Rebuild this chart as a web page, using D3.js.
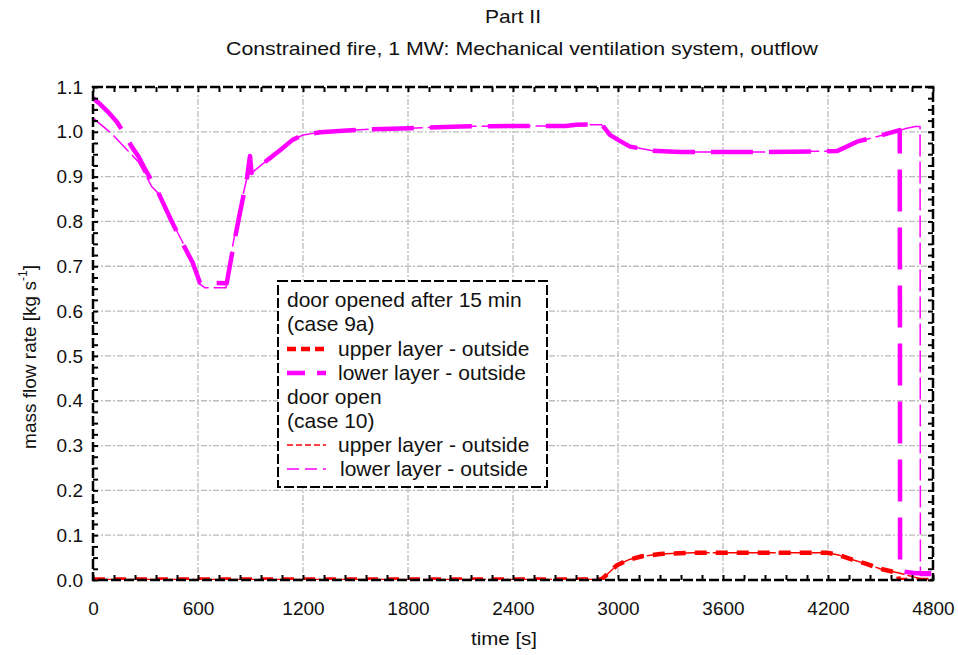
<!DOCTYPE html>
<html>
<head>
<meta charset="utf-8">
<script src="https://cdn.jsdelivr.net/npm/d3@7"></script>
<style>
  html, body { margin: 0; padding: 0; background: #fff; }
  svg { display: block; }
  text { font-family: "Liberation Sans", Arial, sans-serif; fill: #111; }
</style>
</head>
<body>
<svg id="chart" width="958" height="655"></svg>
<script>
// ---------- data ----------
const title = "Part II";
const subtitle = "Constrained fire, 1 MW: Mechanical ventilation system, outflow";
const xLabel = "time [s]";
const yLabel = "mass flow rate [kg s";

const xTickValues = [0, 600, 1200, 1800, 2400, 3000, 3600, 4200, 4800];
const xTickLabels = ["0", "600", "1200", "1800", "2400", "3000", "3600", "4200", "4800"];
const yTickValues = [0, 0.1, 0.2, 0.3, 0.4, 0.5, 0.6, 0.7, 0.8, 0.9, 1.0, 1.1];
const yTickLabels = ["0.0", "0.1", "0.2", "0.3", "0.4", "0.5", "0.6", "0.7", "0.8", "0.9", "1.0", "1.1"];

// case 9a (door opened after 15 min), lower layer - outside
const lower9aTime = [0, 40, 80, 137, 180, 221, 260, 300, 371, 450, 520, 571, 611, 700, 764, 800, 840, 878, 897, 906, 1000, 1069, 1140, 1200, 1300, 1451, 1600, 1811, 2100, 2400, 2700, 2760, 2906, 2954, 3000, 3069, 3200, 3354, 3869, 4251, 4366, 4457, 4594, 4610, 4612, 4700, 4790];
const lower9aValue = [1.075, 1.062, 1.047, 1.022, 0.995, 0.967, 0.945, 0.915, 0.866, 0.800, 0.745, 0.707, 0.663, 0.663, 0.662, 0.740, 0.820, 0.892, 0.946, 0.908, 0.938, 0.959, 0.982, 0.993, 0.999, 1.003, 1.006, 1.008, 1.012, 1.013, 1.013, 1.016, 1.017, 0.993, 0.982, 0.967, 0.958, 0.955, 0.955, 0.957, 0.978, 0.987, 1.002, 1.004, 0.020, 0.015, 0.015];

// case 9a, upper layer - outside
const upper9aTime = [0, 2900, 2914, 2994, 3060, 3137, 3240, 3429, 4194, 4260, 4326, 4420, 4497, 4600, 4605, 4790];
const upper9aValue = [0.001, 0.001, 0.004, 0.033, 0.045, 0.053, 0.058, 0.061, 0.061, 0.056, 0.047, 0.036, 0.025, 0.016, 0.0, 0.0];

// case 10 (door open), lower layer - outside
const lower10Time = [0, 107, 211, 259, 300, 335, 383, 450, 571, 611, 640, 760, 800, 840, 886, 897, 906, 1000, 1069, 1140, 1200, 1300, 1451, 1600, 1811, 2100, 2400, 2700, 2760, 2906, 2954, 3000, 3069, 3200, 3354, 3869, 4251, 4366, 4457, 4594, 4650, 4700, 4726, 4728, 4790];
const lower10Value = [1.031, 0.996, 0.953, 0.933, 0.904, 0.878, 0.859, 0.800, 0.710, 0.660, 0.652, 0.652, 0.750, 0.830, 0.908, 0.944, 0.908, 0.938, 0.959, 0.982, 0.993, 0.999, 1.003, 1.006, 1.008, 1.012, 1.013, 1.013, 1.015, 1.016, 0.993, 0.982, 0.967, 0.958, 0.955, 0.955, 0.957, 0.978, 0.987, 1.001, 1.008, 1.012, 1.012, 0.010, 0.010];

// case 10, upper layer - outside
const upper10Time = [0, 2900, 2914, 2994, 3060, 3137, 3240, 3429, 4194, 4260, 4326, 4420, 4497, 4611, 4686, 4766, 4800];
const upper10Value = [0.001, 0.001, 0.004, 0.033, 0.045, 0.053, 0.058, 0.061, 0.061, 0.056, 0.047, 0.036, 0.025, 0.015, 0.007, 0.0, 0.0];

const legendLines = ["door opened after 15 min", "(case 9a)", "upper layer - outside", "lower layer - outside", "door open", "(case 10)", "upper layer - outside", "lower layer - outside"];

// ---------- drawing ----------
const svg = d3.select("#chart");
const pL = 93, pR = 933, pT = 87, pB = 580;

const x = d3.scaleLinear().domain([0, 4800]).range([pL, pR]);
const y = d3.scaleLinear().domain([0, 1.1]).range([pB, pT]);

svg.append("text").attr("x", 513).attr("y", 23).attr("text-anchor", "middle")
  .style("font-size", "19px").attr("textLength", 56).attr("lengthAdjust", "spacingAndGlyphs").text(title);
svg.append("text").attr("x", 522).attr("y", 55).attr("text-anchor", "middle")
  .style("font-size", "19px").attr("textLength", 592).attr("lengthAdjust", "spacingAndGlyphs").text(subtitle);

// grid
const grid = svg.append("g");
grid.selectAll("line.gx").data(xTickValues.slice(1, -1)).join("line")
  .attr("x1", d => x(d)).attr("x2", d => x(d)).attr("y1", pT).attr("y2", pB)
  .attr("stroke", "#bcbcbc").attr("stroke-width", 1.3).attr("stroke-dasharray", "6,2,2,2");
grid.selectAll("line.gy").data(yTickValues.slice(1, -1)).join("line")
  .attr("y1", d => y(d)).attr("y2", d => y(d)).attr("x1", pL).attr("x2", pR)
  .attr("stroke", "#bcbcbc").attr("stroke-width", 1.3).attr("stroke-dasharray", "6,2,2,2");

// clip
svg.append("clipPath").attr("id", "clip").append("rect")
  .attr("x", pL).attr("y", pT - 2).attr("width", pR - pL).attr("height", pB - pT + 2);

const line = d3.line().x(d => x(d[0])).y(d => y(d[1]));
const zip = (a, b) => a.map((t, i) => [t, b[i]]);

const plot = svg.append("g").attr("clip-path", "url(#clip)");
const series = [
  { t: lower10Time, v: lower10Value, color: "#ff00ff", w: 1.5, dash: "22,5" },
  { t: upper10Time, v: upper10Value, color: "#ff0000", w: 1.5, dash: "30,3" },
  { t: lower9aTime, v: lower9aValue, color: "#ff00ff", w: 4.5, dash: "42,16" },
  { t: upper9aTime, v: upper9aValue, color: "#ff0000", w: 4.5, dash: "12,9" }
];
series.forEach(s => {
  plot.append("path").datum(zip(s.t, s.v)).attr("d", line)
    .attr("fill", "none").attr("stroke", s.color).attr("stroke-width", s.w)
    .attr("stroke-dasharray", s.dash).attr("stroke-linejoin", "round");
});

// frame with dashed edges
const frame = svg.append("g");
frame.append("rect").attr("x", pL).attr("y", pT).attr("width", pR - pL).attr("height", pB - pT)
  .attr("fill", "none").attr("stroke", "#000").attr("stroke-width", 2.5).attr("stroke-dasharray", "10,3");

// axes with inward ticks (major + minor)
const xMinor = d3.range(0, 4801, 120);
const yMinor = d3.range(0, 45).map(i => i * 0.025);
const axB = svg.append("g").attr("transform", `translate(0,${pB})`)
  .call(d3.axisBottom(x).tickValues(xMinor).tickSize(-5).tickFormat(""));
const axT = svg.append("g").attr("transform", `translate(0,${pT})`)
  .call(d3.axisTop(x).tickValues(xMinor).tickSize(-5).tickFormat(""));
const axL = svg.append("g").attr("transform", `translate(${pL},0)`)
  .call(d3.axisLeft(y).tickValues(yMinor).tickSize(-5).tickFormat(""));
const axR = svg.append("g").attr("transform", `translate(${pR},0)`)
  .call(d3.axisRight(y).tickValues(yMinor).tickSize(-5).tickFormat(""));
[axB, axT, axL, axR].forEach(a => {
  a.select(".domain").remove();
  a.selectAll(".tick line").attr("stroke", "#000").attr("stroke-width", 2);
});

// tick labels
const xl = svg.append("g").attr("transform", `translate(0,${pB})`)
  .call(d3.axisBottom(x).tickValues(xTickValues).tickSize(0).tickPadding(22)
    .tickFormat((d, i) => xTickLabels[i]));
const yl = svg.append("g").attr("transform", `translate(${pL},0)`)
  .call(d3.axisLeft(y).tickValues(yTickValues).tickSize(0).tickPadding(10)
    .tickFormat((d, i) => yTickLabels[i]));
[xl, yl].forEach(a => {
  a.select(".domain").remove();
  a.selectAll("text").style("font-size", "19px").attr("fill", "#111")
    .style("font-family", "'Liberation Sans', Arial, sans-serif");
});

// axis titles
svg.append("text").attr("x", 504).attr("y", 645).attr("text-anchor", "middle")
  .style("font-size", "19px").attr("textLength", 66).attr("lengthAdjust", "spacingAndGlyphs").text(xLabel);
const yt = svg.append("text").attr("transform", "translate(36,357) rotate(-90)")
  .attr("text-anchor", "middle").style("font-size", "19px");
yt.append("tspan").text(yLabel);
yt.append("tspan").attr("dy", -9).style("font-size", "12px").text("-1");
yt.append("tspan").attr("dy", 9).text("]");

// legend
const lg = svg.append("g");
lg.append("rect").attr("x", 278).attr("y", 281).attr("width", 269).attr("height", 206)
  .attr("fill", "#fff").attr("stroke", "#000").attr("stroke-width", 2).attr("stroke-dasharray", "10,3");
const baselines = [307, 331, 356, 380, 404, 428, 452, 476];
const textX = [287, 287, 338, 338, 287, 287, 338, 340];
legendLines.forEach((s, i) => {
  lg.append("text").attr("x", textX[i]).attr("y", baselines[i]).style("font-size", "21px").text(s);
});
const legendSamples = [
  { row: 2, color: "#ff0000", w: 4.5, dash: "9,5" },
  { row: 3, color: "#ff00ff", w: 4.5, dash: "18,12" },
  { row: 6, color: "#ff0000", w: 1.5, dash: "6,3" },
  { row: 7, color: "#ff00ff", w: 1.5, dash: "12,6" }
];
legendSamples.forEach(s => {
  lg.append("line").attr("x1", 287).attr("x2", 326)
    .attr("y1", baselines[s.row] - 7).attr("y2", baselines[s.row] - 7)
    .attr("stroke", s.color).attr("stroke-width", s.w).attr("stroke-dasharray", s.dash);
});
</script>
</body>
</html>
